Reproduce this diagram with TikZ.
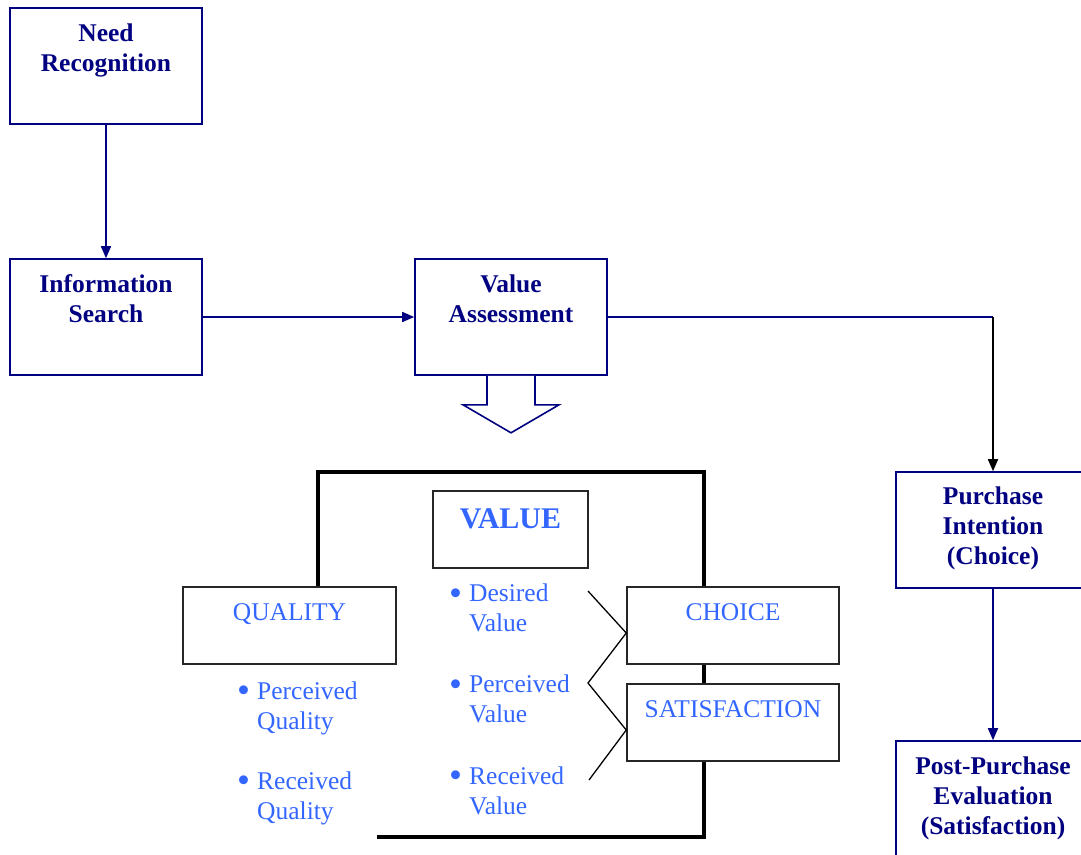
\documentclass[tikz,border=0pt]{standalone}
\usepackage{fontspec}
\usepackage{graphicx}
\setmainfont{Liberation Serif}
\usetikzlibrary{arrows.meta,calc}

\definecolor{navyline}{RGB}{0,0,128}
\definecolor{itemblue}{RGB}{51,102,255}

% box text: width, height, first-baseline offset, lines
\newcommand\boxtext[4]{\parbox[c][#2][t]{#1}{\centering\rule{0pt}{#3}#4}}
% bulleted two-line item
\newcommand\itemdot{\raisebox{-3.5pt}{\scalebox{1.45}{•}}}
\newcommand\bulletitem[2]{\parbox[t]{160pt}{\raggedright\fontsize{25.5}{30}\selectfont
  \makebox[18.5pt][l]{\hspace*{-1.5pt}\itemdot}#1\\\hspace*{18.5pt}#2}}

\tikzset{
  stage/.style={draw=navyline, line width=1.6pt, inner sep=0pt, text=navyline,
    font=\fontsize{25.5}{30}\selectfont\bfseries},
  facet/.style={draw=black!85, line width=1.5pt, inner sep=0pt, text=itemblue,
    font=\fontsize{25.5}{30}\selectfont},
  item/.style={inner sep=0pt, anchor=base west, text=itemblue},
  flow/.style={draw=navyline, line width=1.6pt, -{Triangle[length=12pt,width=10pt]}},
  frame/.style={draw=black, line width=3.5pt},
  zig/.style={draw=black, line width=1.3pt}
}

\begin{document}
\begin{tikzpicture}[x=1pt,y=-1pt]
  \path[use as bounding box] (0,0) rectangle (1081,854);
  \clip (0,0) rectangle (1081,854);

  % consumer decision stages
  \node[stage] (nr) at (106,66)  {\boxtext{192pt}{116pt}{33.5pt}{Need\\Recognition}};
  \node[stage] (is) at (106,317) {\boxtext{192pt}{116pt}{33.5pt}{Information\\Search}};
  \node[stage] (va) at (511,317) {\boxtext{192pt}{116pt}{33.5pt}{Value\\Assessment}};
  \node[stage] (pi) at (993,530) {\boxtext{194pt}{116pt}{32.5pt}{Purchase\\Intention\\(Choice)}};
  \node[stage] (pp) at (993,799) {\boxtext{194pt}{116pt}{33.5pt}{Post-Purchase\\Evaluation\\(Satisfaction)}};

  % flow between stages
  \draw[flow] (nr) -- (is);
  \draw[flow] (is) -- (va);
  \draw[draw=navyline, line width=1.6pt] (va.east) -- (va.east -| pi.north) coordinate (turn);
  \draw[draw=black, line width=1.6pt, -{Triangle[length=12pt,width=10pt]}] (turn) -- (pi.north);
  \draw[flow] (pi) -- (pp);

  % hollow block arrow below the value assessment
  \draw[draw=navyline, line width=1.6pt, fill=white]
    ($(va.south)+(-24,0)$) -- ++(0,29) -- ++(-24,0) -- ($(va.south)+(0,57)$)
    -- ($(va.south)+(48,29)$) -- ++(-24,0) -- ($(va.south)+(24,0)$);

  % value framework
  \node[facet] (quality) at (289.5,625.5) {\boxtext{213pt}{77pt}{33pt}{QUALITY}};
  \node[facet] (value)   at (510.5,529.5) {\boxtext{155pt}{77pt}{37pt}{\fontsize{30}{34}\selectfont\bfseries VALUE}};
  \node[facet] (choice)  at (733,625.5)   {\boxtext{212pt}{77pt}{33pt}{CHOICE}};
  \node[facet] (sat)     at (733,722.5)   {\boxtext{212pt}{77pt}{33.5pt}{SATISFACTION}};

  % outer frame
  \coordinate (fl) at (318,472);
  \coordinate (fr) at (704,472);
  \coordinate (fb) at (704,837);
  \coordinate (fe) at (377,837);
  \draw[frame] (quality.north -| fl) -- (fl) -- (fr) -- (choice.north -| fr);
  \draw[frame] (choice.south -| fr) -- (sat.north -| fr);
  \draw[frame] (sat.south -| fr) -- (fb) -- (fe);

  % value items
  \node[item] (dv) at (450.5,601.5) {\bulletitem{Desired}{Value}};
  \node[item] (pv) at (450.5,692.5) {\bulletitem{Perceived}{Value}};
  \node[item] (rv) at (450.5,784)   {\bulletitem{Received}{Value}};
  \node[item] (pq) at (238.5,699)   {\bulletitem{Perceived}{Quality}};
  \node[item] (rq) at (238.5,789)   {\bulletitem{Received}{Quality}};

  % zig-zag links to choice and satisfaction
  \coordinate (z1) at (588,591);
  \coordinate (z2) at (588,683);
  \coordinate (z3) at (589,780);
  \draw[zig] (z1) -- ($(choice.west)+(0,7.5)$) -- (z2) -- ($(sat.west)+(0,7.5)$) -- (z3);
\end{tikzpicture}
\end{document}
